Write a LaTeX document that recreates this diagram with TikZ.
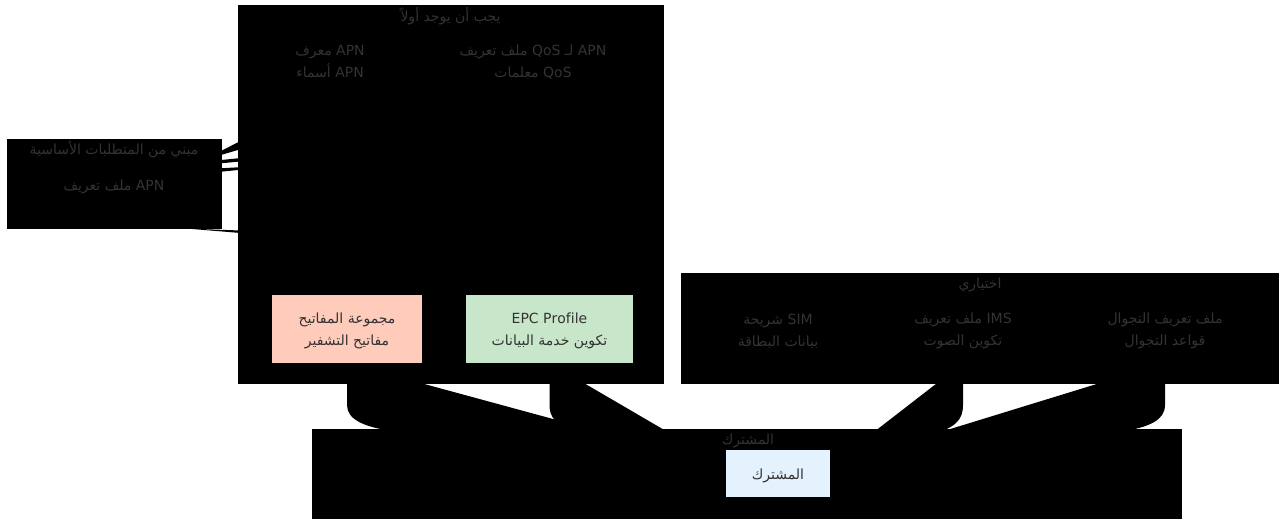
\documentclass[tikz,border=0pt]{standalone}
\usepackage{fontspec}
\setmainfont{DejaVu Sans}
\newfontfamily\arabicfont[Script=Arabic]{DejaVu Sans}
\TeXXeTstate=1
\definecolor{txt}{HTML}{333333}
\definecolor{keyfill}{HTML}{FFCCBC}
\definecolor{epcfill}{HTML}{C8E6C9}
\definecolor{subfill}{HTML}{E3F2FD}
\newcommand{\myR}[1]{\beginR #1\endR}
\newcommand{\myL}[1]{\beginL #1\endL{}}
\begin{document}
\begin{tikzpicture}[x=0.75pt,y=-0.75pt,
  every node/.style={font=\arabicfont\fontsize{10.5}{16.5}\selectfont, text=txt, inner sep=0pt, outer sep=0pt, align=center},
  cluster/.style={fill=black, anchor=north west},
  lbl/.style={yshift=-1.5pt},
  hidden/.style={fill=black, minimum width=120pt, minimum height=51pt},
  keybox/.style={fill=keyfill, minimum width=112.5pt, minimum height=51pt},
  epcbox/.style={fill=epcfill, minimum width=125.25pt, minimum height=51pt},
  subbox/.style={fill=subfill, minimum width=78pt, minimum height=35.25pt},
  edgefill/.style={fill=black}]
\useasboundingbox (0,0) rectangle (1282,521);
\fill[white] (0,0) rectangle (1282,521);
% clusters
\node[cluster, minimum width=319.5pt, minimum height=284.25pt] (cTop) at (238,5) {};
\node[cluster, minimum width=160.875pt, minimum height=67.5pt] (cLeft) at (7,139) {};
\node[cluster, minimum width=448.5pt, minimum height=83.25pt] (cRight) at (681,273) {};
\node[cluster, minimum width=652.5pt, minimum height=67.5pt] (cBot) at (312,429) {};
% cluster titles
\node (tTop) at (450.5,16) {\myR{يجب أن يوجد أولاً}};
\node (tLeft) at (114,150) {\myR{مبني من المتطلبات الأساسية}};
\node[lbl] (tRight) at (980,283) {\myR{اختياري}};
\node[lbl] (tBot) at (748,439) {\myR{المشترك}};
% boxes
\node[keybox] (keys) at (347,329) {};
\node[epcbox] (epc) at (549.5,329) {};
\node[hidden, minimum width=90pt] (ims) at (963,329) {};
\node[hidden, minimum width=100pt] (roam) at (1165,329) {};
% named edge ends on the subscriber node
\coordinate (subL) at (726,466);
\coordinate (subR) at (830,466);
% edges (filled curves)
\fill[edgefill] (keys.south) -- (347,405) .. controls (347,420) and (365,428) .. (400,432) -- (subL) -- cycle;
\fill[edgefill] (epc.south) -- (549.5,405) .. controls (549.5,418) and (556,424) .. (575,432) -- (subL) -- cycle;
\fill[edgefill] (ims.south) -- (963,405) .. controls (963,420) and (955,426) .. (940,432) -- (subR) -- cycle;
\fill[edgefill] (roam.south) -- (1165,405) .. controls (1165,420) and (1150,427) .. (1120,432) -- (subR) -- cycle;
% edges from left cluster
\fill[edgefill] (214,154.6) -- (243,139.7) -- (243,148.5) -- (214,157) -- cycle;
\fill[edgefill] (214,160.7) -- (243,157.8) -- (243,161.2) -- (214,164) -- cycle;
\fill[edgefill] (214,168.7) -- (243,167) -- (243,169.5) -- (214,172.4) -- cycle;
\fill[edgefill] (186,228.5) -- (243,230.6) -- (243,233.2) -- cycle;
% node texts
\node[lbl, fill=black] (apnid) at (330,60) {\myR{\myL{APN} معرف}\\\myR{\myL{APN} أسماء}};
\node[lbl, fill=black] (qos) at (533,60) {\myR{\myL{APN} لـ \myL{QoS} ملف تعريف}\\\myR{\myL{QoS} معلمات}};
\node[lbl] (keysT) at (keys.center) {\myR{مجموعة المفاتيح}\\\myR{مفاتيح التشفير}};
\node[lbl] (epcT) at (epc.center) {EPC Profile\\\myR{تكوين خدمة البيانات}};
\node[lbl, fill=black] (apnprof) at (114,185) {\myR{\myL{APN} ملف تعريف}};
\node[lbl, fill=black] (sim) at (778,329) {\myR{\myL{SIM} شريحة}\\\myR{بيانات البطاقة}};
\node[lbl] (imsT) at (ims.center) {\myR{\myL{IMS} ملف تعريف}\\\myR{تكوين الصوت}};
\node[lbl] (roamT) at (roam.center) {\myR{ملف تعريف التجوال}\\\myR{قواعد التجوال}};
\node[subbox] (sub) at (778,473.5) {};
\node[lbl] (subT) at (sub.center) {\myR{المشترك}};
\end{tikzpicture}
\end{document}
